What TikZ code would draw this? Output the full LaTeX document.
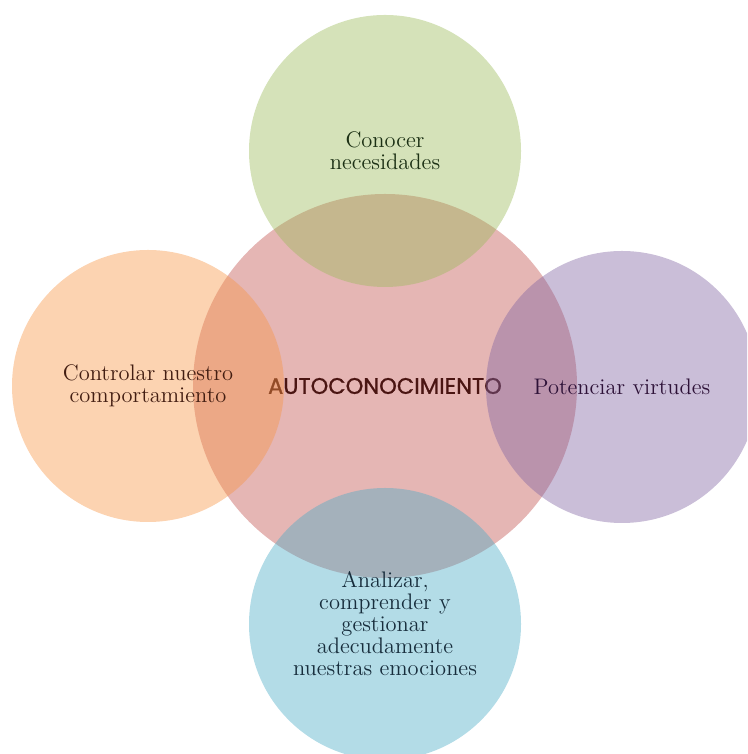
\documentclass[tikz,border=0pt]{standalone}
\usepackage{fontspec}
\newfontfamily\titlefont{Poppins}[FakeBold=1]
\usepackage{xcolor}
\usetikzlibrary{positioning}

\definecolor{redacc}{HTML}{C0504D}
\definecolor{greenacc}{HTML}{9BBB59}
\definecolor{orangeacc}{HTML}{F79646}
\definecolor{purpleacc}{HTML}{8064A2}
\definecolor{blueacc}{HTML}{4BACC6}
\definecolor{redtext}{HTML}{4A1512}
\definecolor{greentext}{HTML}{1C3014}
\definecolor{orangetext}{HTML}{431E12}
\definecolor{purpletext}{HTML}{2E1238}
\definecolor{bluetext}{HTML}{172D3C}

\begin{document}
\begin{tikzpicture}[
		blob/.style={circle, inner sep=0pt, fill opacity=0.42, text opacity=1,
				align=center, font=\fontsize{12.8}{12.5}\selectfont},
		big/.style={blob, minimum size=7.68cm},
		small/.style={blob, minimum size=5.44cm}]
		\useasboundingbox (0, 0) rectangle (14.94, 15.08);
		\clip (0, 0) rectangle (14.94, 15.08);

		% centre first, so the outer circles tint its label
		\node (auto) [big, fill=redacc, text=redtext,
			font=\titlefont\fontsize{12.8}{14}\selectfont] at (7.70, 7.36) {AUTOCONOCIMIENTO};

		\node (needs) [small, fill=greenacc, text=greentext] at (7.70, 12.06)
			{Conocer\\necesidades};
		\node (control) [small, fill=orangeacc, text=orangetext] at (2.96, 7.36)
			{Controlar nuestro\\comportamiento};
		\node (virtues) [small, fill=purpleacc, text=purpletext] at (12.44, 7.34)
			{Potenciar virtudes};
		\node (emotions) [small, fill=blueacc, text=bluetext] at (7.70, 2.60)
			{Analizar,\\comprender y\\gestionar\\adecudamente\\nuestras emociones};
	\end{tikzpicture}
\end{document}
